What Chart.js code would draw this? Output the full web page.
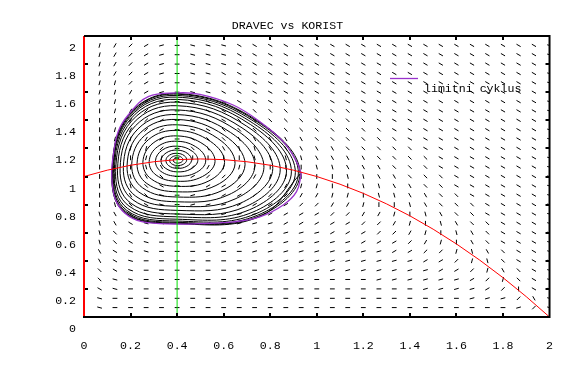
<!DOCTYPE html>
<html>
<head>
<meta charset="utf-8">
<script src="https://cdn.jsdelivr.net/npm/chart.js@4/dist/chart.umd.min.js"></script>
<style>
  html, body { margin: 0; padding: 0; background: #fff; }
</style>
</head>
<body>
<canvas id="phase" width="575" height="368"></canvas>
<script>
// grid of the direction field (prey x, predator y)
const fieldX = [0.067, 0.133, 0.200, 0.267, 0.333, 0.400, 0.467, 0.533, 0.600, 0.667,
                0.733, 0.800, 0.867, 0.933, 1.000, 1.067, 1.133, 1.200, 1.267, 1.333,
                1.400, 1.467, 1.533, 1.600, 1.667, 1.733, 1.800, 1.867, 1.933, 2.000];
const fieldY = [0.067, 0.133, 0.200, 0.267, 0.333, 0.400, 0.467, 0.533, 0.600, 0.667,
                0.733, 0.800, 0.867, 0.933, 1.000, 1.067, 1.133, 1.200, 1.267, 1.333,
                1.400, 1.467, 1.533, 1.600, 1.667, 1.733, 1.800, 1.867, 1.933];

// one string per column (bottom -> top), one char per segment
// 0..6 = rising 0..90 deg, a..e = falling 15..75 deg
const fieldCols = [
  'aabccddeeee' + '66666666666' + '5555555',
  '00aabbbccddeee6666' + '5555555' + '4444',
  '000aaaabbbccdee66554444433333',
  '000000aaaabbccde5543333222222',
  '000000000aaaabcd5322211111111',
  '00000000000000000000000000000',
  '00000000000111236cb' + 'aaaaaaaaaa',
  '00000000011112346dcbbbb' + 'aaaaaa',
  '00000001111122356dccbbbbbbaaa',
  '00000001111223456edcc' + 'bbbbbbbb',
  '0000001111123345eedccc' + 'bbbbbbb',
  '0000011111223456eddccc' + 'bbbbbbb',
  '0000011112223456eddcccc' + 'bbbbbb',
  '0000011112234566eddcccc' + 'bbbbbb',
  '000011111223456eddccccc' + 'bbbbbb',
  '000011112234566eddcccc' + 'bbbbbbb',
  '00001111223456eddccccc' + 'bbbbbbb',
  '0000111223456eeddcccc' + 'bbbbbbbb',
  '000111123346eeddcccc' + 'bbbbbbbbb',
  '000111223456eddcccc' + 'bbbbbbbbbb',
  '00011123456eddcccc' + 'bbbbbbbbbb' + 'b',
  '0011123456eddcccc' + 'bbbbbbbbbb' + 'bb',
  '001122356edcccc' + 'bbbbbbbbbb' + 'bbbb',
  '00112356edccc' + 'bbbbbbbbbb' + 'bbbbbb',
  '011235eddccc' + 'bbbbbbbbbb' + 'bbbbbbb',
  '01235edccc' + 'bbbbbbbbbb' + 'bbbbbbbbb',
  '0135dcc' + 'bbbbbbbbbb' + 'bbbbbbbbbb' + 'bb',
  '136cc' + 'bbbbbbbbbb' + 'bbbbbbbbbb' + 'bbbb',
  '3d' + 'bbbbbbbbbb' + 'bbbbbbbbbb' + 'bbbbbbb',
  'aaaaaaaaaa' + 'aaaaaaaaaa' + 'aaaaaaaaa'
];
const slopeDeg = { '0': 0, '1': 15, '2': 30, '3': 45, '4': 60, '5': 75, '6': 90,
                   'a': -15, 'b': -30, 'c': -45, 'd': -60, 'e': -75 };

// trajectory spiralling out of the equilibrium
const spiralX = [
  0.409, 0.408, 0.400, 0.390, 0.383, 0.387, 0.400, 0.416,
  0.425, 0.419, 0.400, 0.379, 0.368, 0.376, 0.400, 0.428,
  0.441, 0.431, 0.400, 0.367, 0.352, 0.364, 0.400, 0.442,
  0.462, 0.446, 0.400, 0.353, 0.331, 0.349, 0.400, 0.460,
  0.489, 0.465, 0.400, 0.336, 0.307, 0.330, 0.400, 0.483,
  0.523, 0.489, 0.400, 0.316, 0.280, 0.310, 0.400, 0.509,
  0.563, 0.516, 0.400, 0.297, 0.253, 0.290, 0.400, 0.537,
  0.604, 0.544, 0.400, 0.278, 0.228, 0.270, 0.400, 0.567,
  0.649, 0.574, 0.400, 0.260, 0.205, 0.252, 0.400, 0.596,
  0.692, 0.603, 0.400, 0.245, 0.185, 0.236, 0.400, 0.623,
  0.734, 0.630, 0.400, 0.232, 0.169, 0.222, 0.400, 0.649,
  0.773, 0.655, 0.400, 0.221, 0.155, 0.210, 0.400, 0.673,
  0.811, 0.679, 0.400, 0.212, 0.144, 0.201, 0.400, 0.695,
  0.843, 0.699, 0.400, 0.205, 0.136, 0.193, 0.400, 0.712,
  0.870, 0.716, 0.400, 0.200, 0.130, 0.187, 0.400, 0.726,
  0.891, 0.729, 0.400, 0.196, 0.126, 0.183, 0.400, 0.737,
  0.908, 0.740, 0.400, 0.194, 0.123, 0.180, 0.400, 0.745,
  0.921, 0.747, 0.400, 0.192, 0.121, 0.178, 0.400, 0.751,
  0.928, 0.752, 0.400, 0.191, 0.120, 0.177, 0.400, 0.754,
  0.930
];
const spiralY = [
  1.117, 1.125, 1.131, 1.128, 1.117, 1.103, 1.095, 1.100,
  1.117, 1.136, 1.148, 1.139, 1.116, 1.091, 1.078, 1.088,
  1.116, 1.148, 1.165, 1.152, 1.116, 1.077, 1.058, 1.073,
  1.115, 1.163, 1.188, 1.168, 1.114, 1.060, 1.033, 1.054,
  1.114, 1.180, 1.216, 1.188, 1.112, 1.037, 1.002, 1.029,
  1.110, 1.202, 1.251, 1.212, 1.107, 1.010, 0.966, 1.000,
  1.106, 1.226, 1.289, 1.238, 1.102, 0.981, 0.930, 0.969,
  1.100, 1.249, 1.328, 1.264, 1.094, 0.950, 0.891, 0.936,
  1.092, 1.272, 1.368, 1.291, 1.085, 0.919, 0.854, 0.902,
  1.084, 1.293, 1.406, 1.316, 1.076, 0.889, 0.820, 0.871,
  1.075, 1.313, 1.441, 1.339, 1.065, 0.860, 0.788, 0.840,
  1.065, 1.330, 1.474, 1.361, 1.055, 0.834, 0.759, 0.811,
  1.056, 1.346, 1.504, 1.380, 1.045, 0.810, 0.733, 0.786,
  1.047, 1.358, 1.529, 1.396, 1.036, 0.790, 0.713, 0.764,
  1.039, 1.369, 1.549, 1.409, 1.028, 0.773, 0.696, 0.747,
  1.033, 1.376, 1.565, 1.419, 1.022, 0.760, 0.683, 0.734,
  1.028, 1.382, 1.577, 1.427, 1.017, 0.751, 0.674, 0.724,
  1.024, 1.387, 1.586, 1.433, 1.013, 0.744, 0.668, 0.718,
  1.022, 1.389, 1.591, 1.436, 1.011, 0.740, 0.664, 0.714,
  1.020
];

// limit cycle (purple)
const cycleX = [0.934, 0.913, 0.856, 0.755, 0.641, 0.498, 0.400, 0.276, 0.190, 0.147, 0.126,
                0.119, 0.133, 0.176, 0.248, 0.400, 0.498, 0.641, 0.755, 0.856, 0.913, 0.934];
const cycleY = [1.020, 1.106, 1.248, 1.391, 1.509, 1.585, 1.595, 1.569, 1.438, 1.320, 1.153,
                1.010, 0.845, 0.738, 0.679, 0.662, 0.665, 0.677, 0.712, 0.797, 0.892, 1.020];

// prey nullcline (red curve)
const nullX = [0, 0.1, 0.2, 0.3, 0.4, 0.5, 0.6, 0.7, 0.8, 0.9, 1.0,
               1.1, 1.2, 1.3, 1.4, 1.5, 1.6, 1.7, 1.8, 1.9, 2.0];
const nullY = [1.000, 1.045, 1.080, 1.105, 1.120, 1.125, 1.120, 1.105, 1.080, 1.045, 1.000,
               0.945, 0.880, 0.805, 0.720, 0.625, 0.520, 0.405, 0.280, 0.145, 0.000];

// vertical nullclines: x = 0 (red) and x = 0.4 (green)
const axisNullX = [0, 0];
const predNullX = [0.4, 0.4];
const verticalSpan = [0, 2];

const xTickValues = [0, 0.2, 0.4, 0.6, 0.8, 1, 1.2, 1.4, 1.6, 1.8, 2];
const xTickLabels = ['0', '0.2', '0.4', '0.6', '0.8', '1', '1.2', '1.4', '1.6', '1.8', '2'];
const yTickValues = [0, 0.2, 0.4, 0.6, 0.8, 1, 1.2, 1.4, 1.6, 1.8, 2];
const yTickLabels = ['0', '0.2', '0.4', '0.6', '0.8', '1', '1.2', '1.4', '1.6', '1.8', '2'];

const titleText = 'DRAVEC vs KORIST';
const legendText = 'limitni cyklus';

const monoFont = "'Liberation Mono', 'DejaVu Sans Mono', monospace";
const pts = (xs, ys) => xs.map((v, i) => ({ x: v, y: ys[i] }));

const fieldPts = [];
const fieldRot = [];
fieldCols.forEach((col, i) => {
  for (let j = 0; j < col.length && j < fieldY.length; j++) {
    fieldPts.push({ x: fieldX[i], y: fieldY[j] });
    fieldRot.push(-slopeDeg[col[j]]);
  }
});

const framePlugin = {
  id: 'frame',
  afterDatasetsDraw(chart) {
    const { ctx, chartArea: a, scales } = chart;
    ctx.save();
    ctx.strokeStyle = '#000';
    ctx.lineWidth = 2;
    ctx.beginPath();
    ctx.moveTo(a.left, a.top);
    ctx.lineTo(a.right, a.top);
    ctx.lineTo(a.right, a.bottom);
    ctx.lineTo(a.left - 1, a.bottom);
    ctx.stroke();
    ctx.beginPath();
    xTickValues.slice(1, -1).forEach(v => {
      const px = Math.round(scales.x.getPixelForValue(v));
      ctx.moveTo(px, a.top);
      ctx.lineTo(px, a.top + 4);
      ctx.moveTo(px, a.bottom);
      ctx.lineTo(px, a.bottom - 4);
    });
    yTickValues.slice(1, -1).forEach(v => {
      const py = Math.round(scales.y.getPixelForValue(v));
      ctx.moveTo(a.left + 1, py);
      ctx.lineTo(a.left + 4, py);
      ctx.moveTo(a.right, py);
      ctx.lineTo(a.right - 4, py);
    });
    ctx.stroke();
    ctx.restore();
  },
  afterDraw(chart) {
    const { ctx, chartArea: a, width } = chart;
    ctx.save();
    ctx.fillStyle = '#000';
    ctx.font = '11.6px ' + monoFont;
    ctx.textBaseline = 'middle';
    ctx.textAlign = 'center';
    ctx.fillText(titleText, width / 2, 26);

    ctx.strokeStyle = '#9933cc';
    ctx.lineWidth = 1.3;
    ctx.beginPath();
    ctx.moveTo(a.left + 306, a.top + 42.5);
    ctx.lineTo(a.left + 334, a.top + 42.5);
    ctx.stroke();
    ctx.textAlign = 'left';
    ctx.fillText(legendText, a.left + 340, a.top + 53);
    ctx.restore();
  }
};

const tickFont = { family: monoFont, size: 11.6, weight: 'normal' };

new Chart(document.getElementById('phase'), {
  type: 'scatter',
  data: {
    datasets: [
      {
        label: 'smerove pole',
        data: fieldPts,
        pointStyle: 'line',
        pointRadius: 2.4,
        pointBorderWidth: 1,
        pointBorderColor: '#000',
        pointRotation: fieldRot,
        clip: 0,
        order: 10
      },
      {
        label: 'trajektorie',
        data: pts(spiralX, spiralY),
        showLine: true,
        borderColor: '#000',
        borderWidth: 1,
        pointRadius: 0,
        tension: 0.4,
        order: 9
      },
      {
        label: legendText,
        data: pts(cycleX, cycleY),
        showLine: true,
        borderColor: '#9933cc',
        borderWidth: 1.3,
        pointRadius: 0,
        tension: 0.4,
        order: 8
      },
      {
        label: 'nulklina koristi',
        data: pts(nullX, nullY),
        showLine: true,
        borderColor: '#ff0000',
        borderWidth: 1,
        pointRadius: 0,
        order: 7
      },
      {
        label: 'nulklina dravce',
        data: pts(predNullX, verticalSpan),
        showLine: true,
        borderColor: '#00dd00',
        borderWidth: 1,
        pointRadius: 0,
        order: 6
      },
      {
        label: 'x = 0',
        data: pts(axisNullX, verticalSpan),
        showLine: true,
        borderColor: '#ff0000',
        borderWidth: 2,
        pointRadius: 0,
        clip: 4,
        order: 5
      }
    ]
  },
  options: {
    responsive: false,
    animation: false,
    events: [],
    layout: { padding: { top: 36, right: 25, bottom: 0, left: 0 } },
    plugins: {
      legend: { display: false },
      tooltip: { enabled: false },
      title: { display: false }
    },
    scales: {
      x: {
        type: 'linear',
        min: 0,
        max: 2,
        grid: { display: false, drawTicks: false },
        border: { display: false },
        afterBuildTicks: s => { s.ticks = xTickValues.map(v => ({ value: v })); },
        afterFit: s => { s.height = 51; },
        ticks: {
          callback: (v, i) => xTickLabels[i],
          padding: 22,
          maxRotation: 0,
          autoSkip: false,
          color: '#000',
          font: tickFont
        }
      },
      y: {
        type: 'linear',
        min: 0,
        max: 2,
        grid: { display: false, drawTicks: false },
        border: { display: false },
        afterBuildTicks: s => { s.ticks = yTickValues.map(v => ({ value: v })); },
        afterFit: s => { s.width = 84; },
        ticks: {
          callback: (v, i) => yTickLabels[i],
          padding: 8,
          labelOffset: 12,
          autoSkip: false,
          color: '#000',
          font: tickFont
        }
      }
    }
  },
  plugins: [framePlugin]
});
</script>
</body>
</html>
